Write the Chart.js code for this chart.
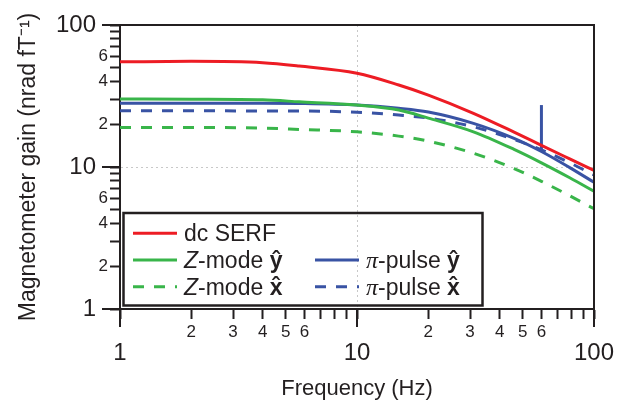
<!DOCTYPE html>
<html>
<head>
<meta charset="utf-8">
<script src="https://cdn.jsdelivr.net/npm/chart.js@4.4.1/dist/chart.umd.min.js"></script>
<style>
html, body { margin: 0; padding: 0; background: #fff; }
#wrap { width: 636px; height: 402px; }
</style>
</head>
<body>
<div id="wrap"><canvas id="gainGraph"></canvas></div>
<script>
// frequencies (Hz)
const freqHz   = [1, 2, 4, 5.7, 10, 15, 20, 31, 46, 60, 79, 100];
const dcSerf   = [55, 55.5, 54.3, 51.4, 45.7, 37.8, 32.1, 23.9, 17.6, 14.2, 11.4, 9.45];
const zModeY   = [30.1, 30.0, 29.7, 28.8, 27.3, 25.2, 22.1, 17.7, 13.3, 10.7, 8.4, 6.75];
const zModeX   = [19.0, 19.0, 18.8, 18.4, 17.7, 16.5, 15.2, 12.5, 9.75, 7.93, 6.27, 5.08];
const piPulseY = [28.1, 28.1, 28.1, 28.0, 27.3, 25.9, 24.4, 20.3, 15.9, 12.85, 9.9, 7.8];
const piPulseX = [24.9, 24.9, 24.8, 24.8, 24.3, 23.2, 22.1, 19.2, 15.6, 13.2, 10.7, 8.78];
// 60 Hz mains pick-up on the pi-pulse y trace
const spikeHz   = [60, 60];
const spikeGain = [12.85, 27.3];

// tick values and which of them get a label
const tickValues = [1, 2, 3, 4, 5, 6, 7, 8, 9, 10, 20, 30, 40, 50, 60, 70, 80, 90, 100];
const majorTicks = [1, 10, 100];
const xLabelled  = [2, 3, 4, 5, 6, 20, 30, 40, 50, 60];
const yLabelled  = [2, 4, 6, 20, 40, 60];

const ink = "#231f20";
const red = "#ed1c24";
const green = "#39b54a";
const blue = "#3953a4";
const sans = "'Liberation Sans', Arial, Helvetica, sans-serif";
const serif = "'Liberation Serif', 'Times New Roman', serif";
const dashed = [11, 10];

Chart.defaults.font.family = sans;
Chart.defaults.color = ink;

function series(xs, values) {
    return xs.map((f, i) => ({ x: f, y: values[i] }));
}

function firstDigit(v) {
    return String(Math.round(v / Math.pow(10, Math.floor(Math.log10(v) + 1e-9))));
}

function tickFont(context) {
    const v = context.tick ? context.tick.value : 0;
    if (majorTicks.includes(v)) return { size: 24, lineHeight: 0.833 };
    return { size: 17, lineHeight: 1.1 };
}

function fixTicks(scale) {
    scale.ticks = tickValues.map(v => ({ value: v, major: majorTicks.includes(v) }));
}

// longer major ticks and the top/right frame
const framePlugin = {
    id: "frame",
    afterDraw(chart) {
        const { ctx, chartArea: a, scales: { x, y } } = chart;
        ctx.save();
        ctx.strokeStyle = ink;
        ctx.lineWidth = 2;
        ctx.beginPath();
        ctx.moveTo(a.left - 1, a.top);
        ctx.lineTo(a.right, a.top);
        ctx.lineTo(a.right, a.bottom);
        majorTicks.forEach(v => {
            const px = x.getPixelForValue(v);
            ctx.moveTo(px, a.bottom);
            ctx.lineTo(px, a.bottom + 18);
            const py = y.getPixelForValue(v);
            ctx.moveTo(a.left, py);
            ctx.lineTo(a.left - 18, py);
        });
        ctx.stroke();
        ctx.restore();
    }
};

// boxed legend, two columns, mixed italic / bold text
const legendSlots = [
    { ds: 0, col: 0, row: 0 },
    { ds: 1, col: 0, row: 1 },
    { ds: 2, col: 0, row: 2 },
    { ds: 3, col: 1, row: 1 },
    { ds: 4, col: 1, row: 2 }
];
const boxLegendPlugin = {
    id: "boxLegend",
    afterDraw(chart) {
        const ctx = chart.ctx;
        const colX = [133, 315];
        const rowY = [233.3, 260, 286.7];
        ctx.save();
        ctx.strokeStyle = ink;
        ctx.lineWidth = 2.5;
        ctx.strokeRect(123.5, 213, 359, 92.5);
        legendSlots.forEach(slot => {
            const ds = chart.data.datasets[slot.ds];
            const x0 = colX[slot.col];
            const y0 = rowY[slot.row];
            ctx.beginPath();
            ctx.strokeStyle = ds.borderColor;
            ctx.lineWidth = 3;
            ctx.setLineDash(ds.borderDash || []);
            ctx.moveTo(x0, y0);
            ctx.lineTo(x0 + 44, y0);
            ctx.stroke();
            ctx.setLineDash([]);
            let tx = x0 + 51;
            ctx.fillStyle = ink;
            ctx.textBaseline = "alphabetic";
            ds.labelParts.forEach(([text, style]) => {
                if (style === "greek") ctx.font = "italic 24px " + serif;
                else ctx.font = (style ? style + " " : "") + "23px " + sans;
                ctx.fillText(text, tx, y0 + 8);
                tx += ctx.measureText(text).width;
            });
        });
        ctx.restore();
    }
};

const lineStyle = {
    pointRadius: 0,
    borderWidth: 3,
    fill: false,
    cubicInterpolationMode: "monotone"
};

new Chart("gainGraph", {
    type: "line",
    data: {
        datasets: [
            { ...lineStyle, label: "dc SERF", data: series(freqHz, dcSerf), borderColor: red,
              labelParts: [["dc SERF", ""]] },
            { ...lineStyle, label: "Z-mode ŷ", data: series(freqHz, zModeY), borderColor: green,
              labelParts: [["Z", "italic"], ["-mode ", ""], ["ŷ", "bold"]] },
            { ...lineStyle, label: "Z-mode x̂", data: series(freqHz, zModeX), borderColor: green, borderDash: dashed,
              labelParts: [["Z", "italic"], ["-mode ", ""], ["x\u0302", "bold"]] },
            { ...lineStyle, label: "π-pulse ŷ", data: series(freqHz, piPulseY), borderColor: blue,
              labelParts: [["π", "greek"], ["-pulse ", ""], ["ŷ", "bold"]] },
            { ...lineStyle, label: "π-pulse x̂", data: series(freqHz, piPulseX), borderColor: blue, borderDash: dashed,
              labelParts: [["π", "greek"], ["-pulse ", ""], ["x\u0302", "bold"]] },
            { ...lineStyle, label: "π-pulse ŷ 60 Hz", data: series(spikeHz, spikeGain), borderColor: blue }
        ]
    },
    options: {
        responsive: true,
        maintainAspectRatio: false,
        animation: false,
        layout: { padding: { top: 25, right: 42, left: 0, bottom: 0 } },
        plugins: { legend: { display: false }, tooltip: { enabled: false } },
        scales: {
            x: {
                type: "logarithmic",
                min: 1,
                max: 100,
                afterBuildTicks: fixTicks,
                afterFit: scale => { scale.height = 93; },
                grid: {
                    color: c => (c.tick && c.tick.value === 10 ? "#c8c8c8" : "rgba(0,0,0,0)"),
                    tickColor: ink,
                    tickLength: 10,
                    tickWidth: 2,
                    lineWidth: 1
                },
                border: { color: ink, width: 2, dash: [2, 3] },
                ticks: {
                    autoSkip: false,
                    maxRotation: 0,
                    padding: 4,
                    color: ink,
                    font: tickFont,
                    callback: v => {
                        if (majorTicks.includes(v)) return ["", String(v)];
                        return xLabelled.includes(v) ? firstDigit(v) : "";
                    }
                },
                title: {
                    display: true,
                    text: "Frequency (Hz)",
                    color: ink,
                    font: { size: 22, lineHeight: 1.2 },
                    padding: { top: 0, bottom: 0 }
                }
            },
            y: {
                type: "logarithmic",
                min: 1,
                max: 100,
                afterBuildTicks: fixTicks,
                afterFit: scale => { scale.width = 120; },
                grid: {
                    color: c => (c.tick && c.tick.value === 10 ? "#c8c8c8" : "rgba(0,0,0,0)"),
                    tickColor: ink,
                    tickLength: 10,
                    tickWidth: 2,
                    lineWidth: 1
                },
                border: { color: ink, width: 2, dash: [2, 3] },
                ticks: {
                    autoSkip: false,
                    padding: 2,
                    color: ink,
                    font: tickFont,
                    callback: v => {
                        if (majorTicks.includes(v)) return String(v) + "\u2002";
                        return yLabelled.includes(v) ? firstDigit(v) : "";
                    }
                },
                title: {
                    display: true,
                    text: "Magnetometer gain (nrad fT\u207B\u00B9)",
                    color: ink,
                    font: { size: 23, lineHeight: 1.2 },
                    padding: { top: 15, bottom: 0 }
                }
            }
        }
    },
    plugins: [framePlugin, boxLegendPlugin]
});
</script>
</body>
</html>
